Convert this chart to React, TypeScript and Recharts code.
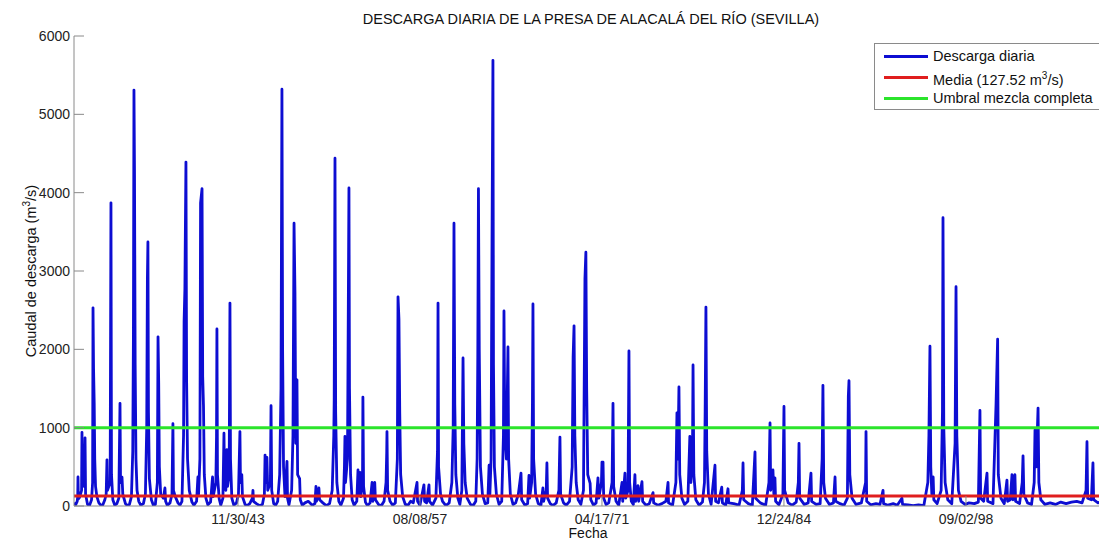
import { LineChart, Line, XAxis, YAxis, Legend } from 'recharts'

// Eje X en años decimales; las marcas caen en las fechas que rotula MATLAB
const fechaTicks = [1943.912, 1957.6, 1971.29, 1984.978, 1998.668]
const fechaEtiquetas = ['11/30/43', '08/08/57', '04/17/71', '12/24/84', '09/02/98']
const caudalTicks = [0, 1000, 2000, 3000, 4000, 5000, 6000]

const INICIO = 1931.58
const FIN = 2009.05
const MEDIA = 127.52
const UMBRAL = 1000

const AZUL = '#0d0dd2'
const ROJO = '#e01e1e'
const VERDE = '#2be42b'
const GRIS = '#8a8a8a'
const FUENTE = '"Liberation Sans", Arial, Helvetica, sans-serif'

// [año, caudal m3/s]
const descarga: [number, number][] = [
  [1931.58, 40], [1931.7, 15], [1931.82, 60], [1931.86, 120], [1931.88, 370], [1931.91, 90],
  [1932.0, 110], [1932.15, 200], [1932.18, 940], [1932.22, 300], [1932.35, 250], [1932.41, 870],
  [1932.45, 150], [1932.6, 20], [1932.75, 8], [1932.9, 80], [1932.98, 300], [1933.01, 2530],
  [1933.05, 1760], [1933.1, 1310], [1933.14, 600], [1933.2, 250], [1933.3, 120], [1933.45, 40],
  [1933.6, 10], [1933.75, 15], [1933.9, 80], [1934.0, 150], [1934.06, 590], [1934.1, 200],
  [1934.3, 300], [1934.36, 3870], [1934.4, 400], [1934.5, 80], [1934.65, 10], [1934.8, 30],
  [1934.95, 100], [1935.04, 1310], [1935.08, 300], [1935.19, 370], [1935.25, 150], [1935.45, 30],
  [1935.6, 5], [1935.75, 20], [1935.9, 120], [1936.0, 700], [1936.05, 2200], [1936.09, 5310],
  [1936.13, 4270], [1936.18, 1800], [1936.24, 600], [1936.32, 200], [1936.45, 60], [1936.6, 10],
  [1936.8, 30], [1936.95, 150], [1937.05, 1000], [1937.1, 2890], [1937.14, 3370], [1937.18, 1200],
  [1937.25, 350], [1937.4, 80], [1937.55, 10], [1937.7, 20], [1937.85, 300], [1937.9, 2160],
  [1937.95, 1580], [1938.0, 500], [1938.1, 150], [1938.3, 100], [1938.42, 230], [1938.47, 60],
  [1938.6, 8], [1938.8, 40], [1938.95, 150], [1939.02, 1050], [1939.06, 200], [1939.2, 120],
  [1939.4, 40], [1939.55, 10], [1939.7, 60], [1939.82, 900], [1939.86, 2350], [1939.92, 2770],
  [1940.0, 4390], [1940.05, 1600], [1940.12, 600], [1940.25, 200], [1940.45, 50], [1940.6, 10],
  [1940.8, 60], [1940.9, 370], [1940.95, 150], [1941.05, 600], [1941.1, 3870], [1941.21, 4050],
  [1941.26, 1650], [1941.32, 1270], [1941.38, 400], [1941.5, 100], [1941.65, 15], [1941.85, 50],
  [1942.0, 370], [1942.05, 120], [1942.25, 300], [1942.3, 890], [1942.33, 2260], [1942.37, 400],
  [1942.5, 90], [1942.62, 10], [1942.78, 100], [1942.86, 930], [1942.9, 300], [1943.0, 200],
  [1943.08, 720], [1943.13, 250], [1943.25, 400], [1943.31, 2590], [1943.35, 600], [1943.45, 100],
  [1943.6, 10], [1943.8, 40], [1943.95, 150], [1944.06, 950], [1944.1, 300], [1944.2, 400],
  [1944.25, 120], [1944.45, 20], [1944.6, 5], [1944.8, 30], [1945.0, 100], [1945.04, 200],
  [1945.08, 60], [1945.3, 30], [1945.55, 5], [1945.75, 20], [1945.9, 150], [1945.95, 650],
  [1946.0, 300], [1946.09, 620], [1946.15, 200], [1946.35, 300], [1946.4, 1280], [1946.45, 200],
  [1946.6, 30], [1946.75, 10], [1946.9, 60], [1947.05, 400], [1947.15, 1500], [1947.22, 5320],
  [1947.27, 2000], [1947.34, 500], [1947.45, 120], [1947.6, 570], [1947.64, 100], [1947.75, 15],
  [1947.95, 200], [1948.05, 900], [1948.13, 3610], [1948.2, 2730], [1948.26, 800], [1948.35, 1610],
  [1948.4, 400], [1948.55, 350], [1948.6, 80], [1948.75, 10], [1948.95, 40], [1949.2, 60],
  [1949.5, 10], [1949.7, 30], [1949.78, 250], [1949.82, 60], [1950.0, 230], [1950.05, 80],
  [1950.3, 40], [1950.55, 5], [1950.8, 30], [1951.0, 200], [1951.12, 900], [1951.15, 1350],
  [1951.21, 4440], [1951.26, 1200], [1951.35, 300], [1951.5, 60], [1951.65, 10], [1951.85, 100],
  [1951.92, 500], [1951.96, 890], [1952.0, 300], [1952.15, 600], [1952.26, 4060], [1952.3, 1500],
  [1952.38, 400], [1952.5, 80], [1952.65, 10], [1952.85, 60], [1952.94, 460], [1953.0, 150],
  [1953.1, 430], [1953.15, 120], [1953.28, 300], [1953.31, 1390], [1953.36, 250], [1953.5, 50],
  [1953.65, 5], [1953.85, 40], [1954.0, 300], [1954.05, 60], [1954.2, 300], [1954.25, 80],
  [1954.5, 15], [1954.7, 5], [1954.9, 60], [1955.05, 300], [1955.1, 680], [1955.12, 950],
  [1955.17, 200], [1955.35, 60], [1955.55, 10], [1955.75, 40], [1955.9, 600], [1955.95, 2670],
  [1956.02, 2390], [1956.08, 1200], [1956.15, 400], [1956.3, 120], [1956.5, 20], [1956.7, 10],
  [1956.9, 60], [1957.1, 40], [1957.38, 300], [1957.42, 60], [1957.6, 10], [1957.9, 270],
  [1957.95, 60], [1958.1, 40], [1958.28, 270], [1958.32, 60], [1958.55, 10], [1958.8, 100],
  [1958.92, 700], [1958.96, 2590], [1959.0, 500], [1959.15, 150], [1959.3, 60], [1959.55, 5],
  [1959.8, 40], [1960.0, 300], [1960.1, 1000], [1960.16, 3610], [1960.22, 1300], [1960.3, 400],
  [1960.45, 100], [1960.6, 20], [1960.75, 200], [1960.84, 1890], [1960.9, 800], [1961.0, 300],
  [1961.15, 100], [1961.4, 20], [1961.6, 5], [1961.8, 60], [1961.9, 600], [1961.95, 1900],
  [1962.0, 4050], [1962.06, 2000], [1962.15, 500], [1962.3, 150], [1962.5, 30], [1962.7, 40],
  [1962.8, 520], [1962.86, 150], [1962.95, 600], [1963.02, 3360], [1963.09, 5690], [1963.13, 1800],
  [1963.2, 500], [1963.35, 150], [1963.55, 20], [1963.75, 60], [1963.88, 900], [1963.92, 2490],
  [1963.98, 1000], [1964.1, 600], [1964.22, 2030], [1964.27, 600], [1964.4, 150], [1964.6, 20],
  [1964.8, 40], [1965.0, 150], [1965.2, 420], [1965.25, 80], [1965.5, 10], [1965.7, 30],
  [1965.8, 390], [1965.85, 100], [1966.0, 300], [1966.06, 1300], [1966.1, 2580], [1966.15, 600],
  [1966.3, 150], [1966.5, 30], [1966.7, 10], [1966.85, 230], [1966.9, 60], [1967.1, 200],
  [1967.15, 550], [1967.2, 100], [1967.4, 30], [1967.6, 5], [1967.85, 40], [1968.05, 200],
  [1968.13, 880], [1968.18, 150], [1968.4, 40], [1968.6, 10], [1968.85, 60], [1969.05, 500],
  [1969.12, 1900], [1969.19, 2300], [1969.25, 900], [1969.35, 300], [1969.5, 80], [1969.7, 20],
  [1969.9, 200], [1970.01, 2900], [1970.08, 3240], [1970.14, 1500], [1970.22, 400], [1970.4, 290],
  [1970.45, 80], [1970.65, 10], [1970.85, 40], [1970.99, 360], [1971.05, 100], [1971.25, 300],
  [1971.29, 560], [1971.37, 560], [1971.42, 100], [1971.6, 20], [1971.8, 40], [1972.05, 300],
  [1972.12, 1310], [1972.17, 250], [1972.35, 60], [1972.55, 10], [1972.8, 300], [1972.85, 60],
  [1973.02, 420], [1973.08, 100], [1973.25, 200], [1973.32, 1980], [1973.37, 300], [1973.5, 60],
  [1973.65, 20], [1973.77, 400], [1973.82, 60], [1974.0, 260], [1974.05, 60], [1974.3, 310],
  [1974.35, 60], [1974.6, 10], [1974.85, 30], [1975.13, 170], [1975.18, 40], [1975.5, 10],
  [1975.8, 30], [1976.1, 60], [1976.26, 300], [1976.3, 40], [1976.6, 10], [1976.85, 300],
  [1976.93, 1190], [1977.0, 600], [1977.08, 1520], [1977.14, 400], [1977.3, 100], [1977.5, 20],
  [1977.75, 60], [1977.9, 890], [1977.98, 300], [1978.1, 700], [1978.14, 1800], [1978.2, 400],
  [1978.35, 80], [1978.6, 10], [1978.85, 50], [1979.0, 300], [1979.05, 1200], [1979.11, 2540],
  [1979.17, 700], [1979.3, 150], [1979.5, 20], [1979.79, 520], [1979.84, 60], [1980.05, 40],
  [1980.3, 240], [1980.35, 40], [1980.6, 10], [1980.77, 220], [1980.82, 40], [1981.2, 30],
  [1981.6, 10], [1981.85, 200], [1981.9, 550], [1981.95, 80], [1982.3, 30], [1982.6, 10],
  [1982.8, 690], [1982.85, 100], [1983.2, 40], [1983.6, 10], [1983.85, 300], [1983.93, 1060],
  [1983.98, 200], [1984.1, 300], [1984.15, 460], [1984.22, 150], [1984.3, 360], [1984.35, 60],
  [1984.6, 15], [1984.9, 150], [1984.98, 1270], [1985.03, 200], [1985.3, 40], [1985.6, 10],
  [1985.9, 50], [1986.06, 300], [1986.11, 800], [1986.16, 100], [1986.5, 20], [1986.8, 40],
  [1987.01, 420], [1987.06, 60], [1987.4, 20], [1987.7, 30], [1987.85, 600], [1987.91, 1540],
  [1987.97, 300], [1988.1, 100], [1988.4, 20], [1988.7, 40], [1988.82, 370], [1988.87, 60],
  [1989.2, 30], [1989.5, 10], [1989.75, 100], [1989.82, 1400], [1989.87, 1600], [1989.93, 400],
  [1990.1, 100], [1990.4, 20], [1990.8, 40], [1991.12, 300], [1991.15, 950], [1991.2, 60],
  [1991.5, 15], [1991.9, 30], [1992.2, 20], [1992.43, 200], [1992.47, 30], [1992.8, 10],
  [1993.2, 30], [1993.5, 10], [1993.85, 100], [1993.9, 20], [1994.3, 15], [1994.7, 5],
  [1995.1, 15], [1995.5, 5], [1995.8, 300], [1995.88, 890], [1995.96, 2040], [1996.02, 500],
  [1996.1, 150], [1996.2, 370], [1996.25, 80], [1996.5, 30], [1996.8, 200], [1996.9, 1200],
  [1996.94, 3680], [1997.0, 1000], [1997.1, 300], [1997.3, 80], [1997.6, 30], [1997.85, 800],
  [1997.92, 2800], [1997.98, 900], [1998.1, 200], [1998.3, 60], [1998.6, 20], [1998.9, 40],
  [1999.3, 30], [1999.6, 50], [1999.72, 1220], [1999.77, 100], [2000.0, 60], [2000.25, 420],
  [2000.3, 60], [2000.7, 30], [2000.93, 1300], [2001.05, 2130], [2001.1, 400], [2001.3, 100],
  [2001.55, 30], [2001.75, 330], [2001.8, 60], [2002.0, 80], [2002.13, 400], [2002.2, 80],
  [2002.35, 400], [2002.4, 60], [2002.7, 30], [2002.9, 300], [2002.96, 640], [2003.02, 150],
  [2003.3, 40], [2003.6, 20], [2003.8, 300], [2003.86, 970], [2003.95, 500], [2004.09, 1250],
  [2004.15, 300], [2004.3, 80], [2004.6, 20], [2005.0, 40], [2005.4, 20], [2005.8, 50],
  [2006.2, 30], [2006.6, 50], [2007.0, 60], [2007.4, 40], [2007.7, 200], [2007.77, 820],
  [2007.82, 100], [2008.1, 80], [2008.22, 550], [2008.27, 80], [2008.6, 40], [2009.0, 60],
  [2009.2, 50],
]

const serieDescarga = descarga.map(([fecha, caudal]) => ({ fecha, caudal }))
const serieMedia = [{ fecha: INICIO, caudal: MEDIA }, { fecha: FIN + 1, caudal: MEDIA }]
const serieUmbral = [{ fecha: INICIO, caudal: UMBRAL }, { fecha: FIN + 1, caudal: UMBRAL }]

const leyenda = [
  { color: AZUL, texto: <>Descarga diaria</> },
  { color: ROJO, texto: <>Media (127.52 m<sup style={{ fontSize: 10 }}>3</sup>/s)</> },
  { color: VERDE, texto: <>Umbral mezcla completa</> },
]

const etiquetaFecha = (v: number) => {
  const i = fechaTicks.indexOf(v)
  return i >= 0 ? fechaEtiquetas[i] : ''
}

const renderLeyenda = () => (
  <div
    style={{
      width: 250,
      height: 63,
      border: `1px solid ${GRIS}`,
      background: '#fff',
      paddingTop: 2,
      fontFamily: FUENTE,
      fontSize: 14.5,
      color: '#111',
    }}
  >
    {leyenda.map((e, i) => (
      <div key={i} style={{ display: 'flex', alignItems: 'center', height: 21, lineHeight: '21px' }}>
        <div style={{ width: 44, height: 3, background: e.color, marginLeft: 9, marginRight: 5 }} />
        <span style={{ whiteSpace: 'nowrap' }}>{e.texto}</span>
      </div>
    ))}
  </div>
)

const tickStyle = { fontSize: 14, fill: '#222', fontFamily: FUENTE }

export default function App() {
  return (
    <div
      style={{
        position: 'absolute',
        left: 0,
        top: 0,
        width: 1099,
        height: 542,
        overflow: 'hidden',
        background: '#fff',
        fontFamily: FUENTE,
      }}
    >
      <div
        style={{
          position: 'absolute',
          left: 76,
          width: 1030,
          top: 11,
          textAlign: 'center',
          fontSize: 14.5,
          color: '#111',
        }}
      >
        DESCARGA DIARIA DE LA PRESA DE ALACALÁ DEL RÍO (SEVILLA)
      </div>
      <div
        style={{
          position: 'absolute',
          left: 30,
          top: 271,
          transform: 'translate(-50%, -50%) rotate(-90deg)',
          whiteSpace: 'nowrap',
          fontSize: 14.5,
          color: '#111',
        }}
      >
        Caudal de descarga (m<sup style={{ fontSize: 10 }}>3</sup>/s)
      </div>
      <div
        style={{
          position: 'absolute',
          left: 588,
          top: 525,
          transform: 'translateX(-50%)',
          fontSize: 14,
          lineHeight: '16px',
          color: '#111',
        }}
      >
        Fecha
      </div>
      <LineChart width={1110} height={542} margin={{ top: 36, right: 6, bottom: 0, left: 0 }}>
        <XAxis
          dataKey="fecha"
          type="number"
          domain={[INICIO, FIN]}
          allowDataOverflow
          ticks={fechaTicks}
          tickFormatter={etiquetaFecha}
          height={36}
          tickSize={-10}
          tickMargin={18}
          tick={tickStyle}
          stroke={GRIS}
          interval={0}
        />
        <XAxis
          xAxisId="top"
          orientation="top"
          dataKey="fecha"
          type="number"
          domain={[INICIO, FIN]}
          allowDataOverflow
          ticks={fechaTicks}
          tickFormatter={() => ''}
          height={0}
          tickSize={-10}
          stroke={GRIS}
          interval={0}
        />
        <YAxis
          type="number"
          domain={[0, 6000]}
          ticks={caudalTicks}
          allowDataOverflow
          width={74}
          tickSize={-10}
          tickMargin={14}
          tick={tickStyle}
          stroke={GRIS}
          interval={0}
        />
        <YAxis
          yAxisId="right"
          orientation="right"
          type="number"
          domain={[0, 6000]}
          ticks={caudalTicks}
          allowDataOverflow
          width={0}
          tickSize={-10}
          tickFormatter={() => ''}
          stroke={GRIS}
          interval={0}
        />
        <Legend
          layout="horizontal"
          verticalAlign="middle"
          align="center"
          content={renderLeyenda}
          wrapperStyle={{ left: 874, top: 43, width: 250, height: 65 }}
        />
        <Line
          data={serieDescarga}
          dataKey="caudal"
          name="Descarga diaria"
          stroke={AZUL}
          strokeWidth={2.8}
          strokeLinejoin="round"
          dot={false}
          activeDot={false}
          isAnimationActive={false}
        />
        <Line
          data={serieMedia}
          dataKey="caudal"
          name="Media"
          stroke={ROJO}
          strokeWidth={3}
          dot={false}
          activeDot={false}
          isAnimationActive={false}
        />
        <Line
          data={serieUmbral}
          dataKey="caudal"
          name="Umbral mezcla completa"
          stroke={VERDE}
          strokeWidth={3}
          dot={false}
          activeDot={false}
          isAnimationActive={false}
        />
      </LineChart>
    </div>
  )
}
